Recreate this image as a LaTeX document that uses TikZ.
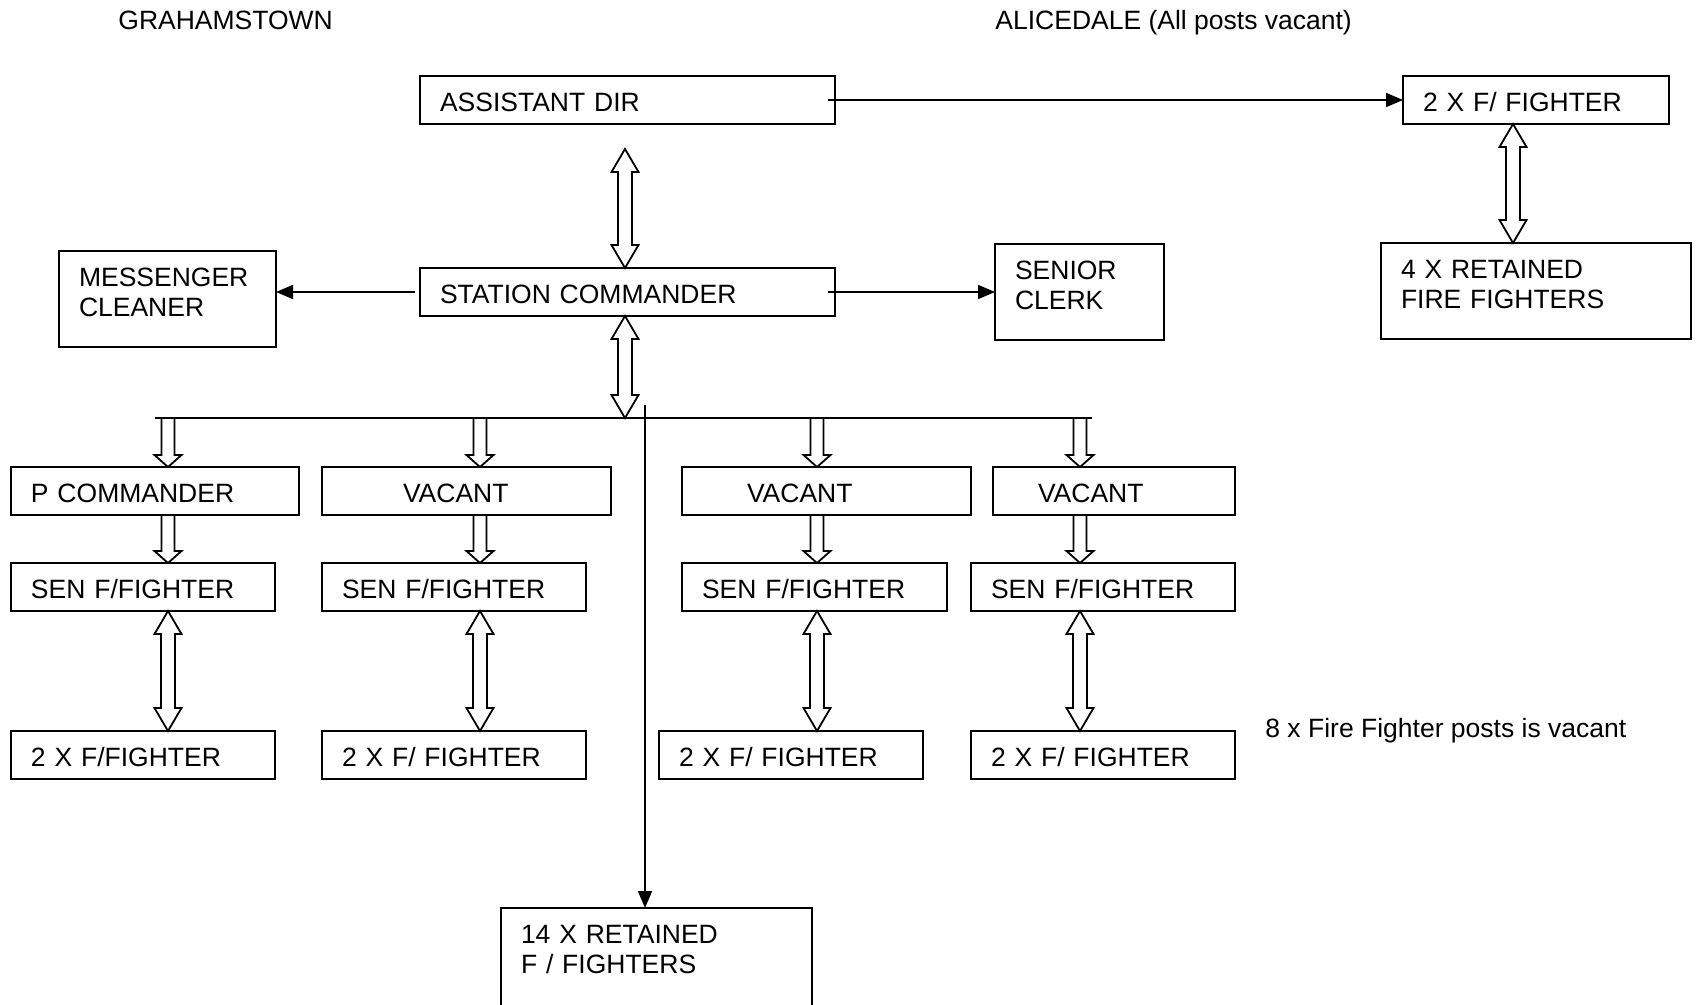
\documentclass[tikz,border=0pt]{standalone}
\usepackage{fontspec}
\setmainfont{Liberation Sans}
\usepackage{tikz}
\usetikzlibrary{arrows.meta,calc}

\begin{document}
\begin{tikzpicture}[x=0.5pt, y=-0.5pt, font=\fontsize{13.25pt}{15pt}\selectfont,
      post/.style={draw, line width=0.9pt, anchor=north west, outer sep=0pt,
                   inner xsep=10pt, inner ysep=0pt, align=left,
                   text height=17.75pt, text depth=6.25pt},
      tall/.style={text depth=30.25pt},
      label/.style={anchor=base west, inner sep=0pt},
      conn/.style={-{Triangle[length=8.5pt,width=7pt]}, line width=0.9pt},
      dbl/.style={line width=0.9pt, to path={
                   (\tikztostart) -- ++(13.5,23) -- ++(-6.5,0)
                   -- ($(\tikztotarget)+(7,-23)$) -- ++(6.5,0) -- (\tikztotarget)
                   -- ++(-13.5,-23) -- ++(6.5,0)
                   -- ($(\tikztostart)+(-7,23)$) -- ++(-6.5,0) -- cycle}},
      down/.style={line width=0.9pt, to path={
                   ($(\tikztostart)+(-6.5,0)$) -- ($(\tikztostart)+(6.5,0)$)
                   -- ($(\tikztotarget)+(6.5,-12)$) -- ++(7,0) -- (\tikztotarget)
                   -- ++(-13.5,-12) -- ++(7,0) -- cycle}}]
      \useasboundingbox (0,0) rectangle (1696,1005);

      \node[label] (gtown) at (118,29.5) {GRAHAMSTOWN};
      \node[label] (adale) at (995,29.5) {ALICEDALE (All posts vacant)};
      \node[label] (note)  at (1265,737) {8 x Fire Fighter posts is vacant};

      \node[post, text width=187.5pt] (ad) at (420,76) {ASSISTANT DIR};
      \node[post, text width=187.5pt] (sc) at (420,268) {STATION COMMANDER};
      \node[post, tall, text width=88.5pt] (msg) at (59,251) {MESSENGER\\CLEANER};
      \node[post, tall, text width=64.5pt] (clerk) at (995,244) {SENIOR\\CLERK};
      \node[post, text width=113pt] (aff) at (1403,76) {2 X F/ FIGHTER};
      \node[post, tall, text width=135pt] (aret) at (1381,243) {4 X RETAINED\\FIRE FIGHTERS};

      \node[post, text width=124pt]   (top1) at (11,467)  {P COMMANDER};
      \node[post, text width=124.5pt] (top2) at (322,467) {\hspace*{30.5pt}VACANT};
      \node[post, text width=124.5pt] (top3) at (682,467) {\hspace*{22.5pt}VACANT};
      \node[post, text width=101pt]   (top4) at (993,467) {\hspace*{12.5pt}VACANT};

      \node[post, text width=112pt]   (sen1) at (11,563)  {SEN F/FIGHTER};
      \node[post, text width=112pt]   (sen2) at (322,563) {SEN F/FIGHTER};
      \node[post, text width=112.5pt] (sen3) at (682,563) {SEN F/FIGHTER};
      \node[post, text width=112pt]   (sen4) at (971,563) {SEN F/FIGHTER};

      \node[post, text width=112pt] (ff1) at (11,731)  {2 X F/FIGHTER};
      \node[post, text width=112pt] (ff2) at (322,731) {2 X F/ FIGHTER};
      \node[post, text width=112pt] (ff3) at (659,731) {2 X F/ FIGHTER};
      \node[post, text width=112pt] (ff4) at (971,731) {2 X F/ FIGHTER};

      \node[post, text width=135.5pt, text depth=60pt] (ret14) at (501,908) {14 X RETAINED\\F / FIGHTERS};

      \coordinate (busL) at (155,418);
      \coordinate (busR) at (1092,418);
      \coordinate (tap)  at (645,405);

      \draw[conn] ([xshift=-3.5pt]ad.east) -- (aff);
      \draw[conn] ([xshift=-2.5pt]sc.west) -- (msg.east |- sc.west);
      \draw[conn] ([xshift=-3.5pt]sc.east) -- (clerk);
      \draw[dbl] ([xshift=-1.25pt,yshift=-12.5pt]ad.south) to ([xshift=-1.25pt]sc.north);
      \draw[dbl] ([xshift=-1.25pt]sc.south) to ([xshift=-1.25pt]sc.south |- busL);
      \draw[dbl] ([xshift=-11.5pt]aff.south) to ([xshift=-11.5pt]aret.north);

      \draw[line width=0.9pt] (busL) -- (busR);
      \draw[conn] (tap) -- (tap |- ret14.north);

      \foreach \i/\x in {1/168, 2/480, 3/817, 4/1080} {
        \coordinate (col\i) at (\x,418);
        \draw[down] (col\i) to (col\i |- top\i.north);
        \draw[down] (col\i |- top\i.south) to (col\i |- sen\i.north);
        \draw[dbl] (col\i |- sen\i.south) to (col\i |- ff\i.north);
      }
    \end{tikzpicture}
\end{document}
